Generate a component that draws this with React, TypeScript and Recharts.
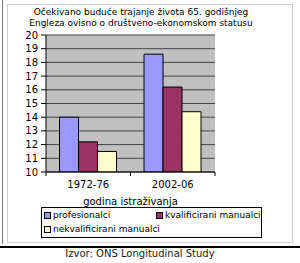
import { BarChart, Bar, XAxis, YAxis, CartesianGrid } from "recharts";

const periods = ["1972-76", "2002-06"];
const profesionalci = [14.0, 18.6];
const kvalificirani = [12.2, 16.2];
const nekvalificirani = [11.5, 14.4];
const yTicks = [10, 11, 12, 13, 14, 15, 16, 17, 18, 19, 20];

const SERIES = [
  { key: "prof", name: "profesionalci", color: "#9999ff", values: profesionalci },
  { key: "kval", name: "kvalificirani manualci", color: "#993366", values: kvalificirani },
  { key: "nekv", name: "nekvalificirani manualci", color: "#ffffcc", values: nekvalificirani },
];

const data = periods.map((period, i) => {
  const row: Record<string, string | number> = { period };
  SERIES.forEach((s) => (row[s.key] = s.values[i]));
  return row;
});

const FONT = "'DejaVu Sans', Tahoma, sans-serif";

// category label plus the small boundary ticks Excel draws between groups
function CatTick(props: any) {
  const { x, y, payload, width, visibleTicksCount, index } = props;
  const half = width / visibleTicksCount / 2;
  const axisY = y - 8;
  return (
    <g>
      <line x1={x - half} x2={x - half} y1={axisY} y2={axisY + 4} stroke="#000" />
      {index === visibleTicksCount - 1 && (
        <line x1={x + half} x2={x + half} y1={axisY} y2={axisY + 4} stroke="#000" />
      )}
      <text x={x} y={y + 1} dy="0.71em" textAnchor="middle" fontSize={10} fill="#000" fontFamily={FONT}>
        {payload.value}
      </text>
    </g>
  );
}

export default function App() {
  return (
    <div style={{ position: "absolute", left: 0, top: 0, width: 300, height: 263, background: "#fff", fontFamily: FONT }}>
      <div style={{ position: "absolute", left: 2, top: 0, width: 1, height: 244, background: "#777" }} />
      <div style={{ position: "absolute", left: 7, top: 4, width: 284, height: 237, border: "1px solid #cfcfcf" }} />
      <div style={{ position: "absolute", left: 0, top: 246, width: 300, height: 1.5, background: "#000" }} />

      <div style={{ position: "absolute", left: 0, top: 7, width: 282, textAlign: "center", fontSize: 9, lineHeight: "11px", color: "#000" }}>
        Očekivano buduće trajanje života 65. godišnjeg
        <br />
        Engleza ovisno o društveno-ekonomskom statusu
      </div>

      <div style={{ position: "absolute", left: 0, top: 0 }}>
        <BarChart
          width={300}
          height={263}
          data={data}
          margin={{ top: 35, right: 85, bottom: 59, left: 0 }}
          barCategoryGap="16%"
          barGap={0}
        >
          <CartesianGrid vertical={false} stroke="#444" fill="#c0c0c0" fillOpacity={1} />
          <XAxis
            dataKey="period"
            height={32}
            axisLine={{ stroke: "#000" }}
            tickLine={false}
            tick={<CatTick />}
            interval={0}
            label={{ value: "godina istraživanja", position: "insideBottom", offset: -1, fontSize: 10, fill: "#000", fontFamily: FONT }}
          />
          <YAxis
            width={46}
            domain={[10, 20]}
            ticks={yTicks}
            interval={0}
            allowDataOverflow
            axisLine={{ stroke: "#000" }}
            tickLine={{ stroke: "#000" }}
            tickSize={5}
            tickMargin={3}
            tick={{ fontSize: 10, fill: "#000", fontFamily: FONT }}
          />
          {SERIES.map((s) => (
            <Bar key={s.key} dataKey={s.key} name={s.name} fill={s.color} stroke="#000" strokeWidth={1} isAnimationActive={false} />
          ))}
        </BarChart>
      </div>

      <div style={{ position: "absolute", left: 41, top: 207, width: 219, height: 29, border: "1px solid #000", fontSize: 9, color: "#000" }}>
        {SERIES.map((s, i) => (
          <div
            key={s.key}
            style={{ position: "absolute", left: i === 1 ? 114 : 2, top: i === 2 ? 16 : 2, display: "flex", alignItems: "center", whiteSpace: "nowrap" }}
          >
            <span style={{ display: "inline-block", width: 5, height: 5, background: s.color, border: "1px solid #000", marginRight: 2 }} />
            {s.name}
          </div>
        ))}
      </div>

      <div style={{ position: "absolute", left: 0, top: 247, width: 280, textAlign: "center", fontSize: 10, lineHeight: "13px", color: "#222" }}>
        Izvor: ONS Longitudinal Study
      </div>
    </div>
  );
}
